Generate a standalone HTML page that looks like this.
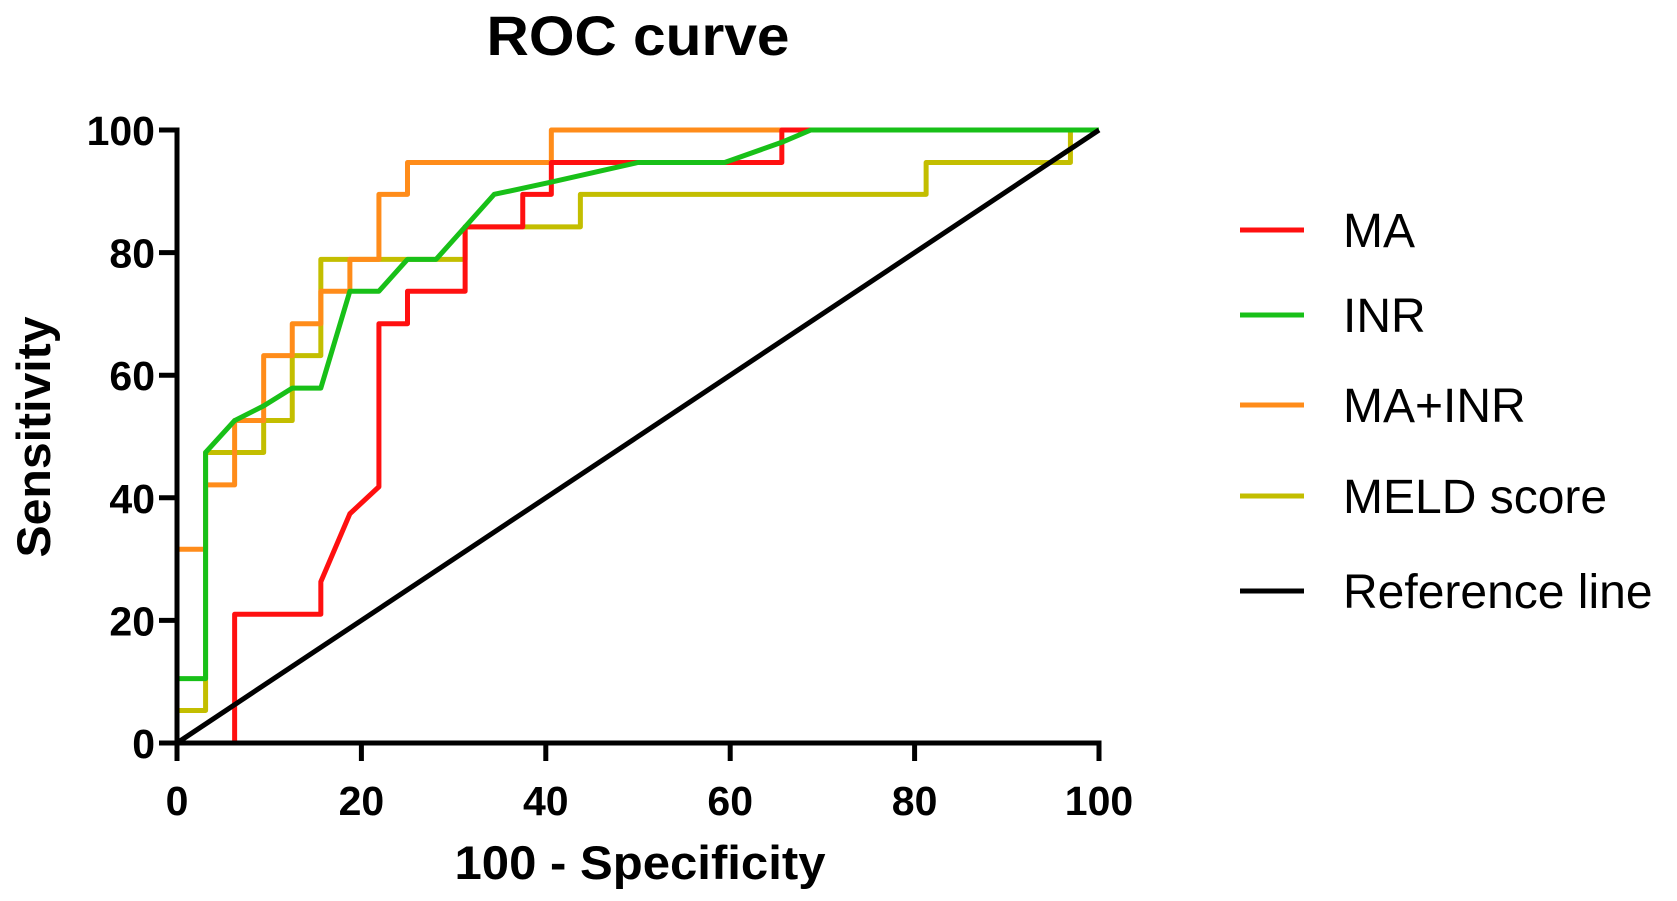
<!DOCTYPE html>
<html><head><meta charset="utf-8"><style>
html,body{margin:0;padding:0;background:#fff;}
svg{display:block;font-family:"Liberation Sans",Arial,sans-serif;}
</style></head><body>
<svg id="chart" width="1677" height="901" viewBox="0 0 1677 901">
<text x="638" y="55" font-size="56" font-weight="bold" text-anchor="middle" textLength="303" lengthAdjust="spacingAndGlyphs">ROC curve</text>
<g id="plot"></g>
<g id="axes"></g>
<text x="640" y="879" font-size="47" font-weight="bold" text-anchor="middle" textLength="371" lengthAdjust="spacingAndGlyphs">100 - Specificity</text>
<text transform="translate(50,437) rotate(-90)" font-size="47" font-weight="bold" text-anchor="middle" textLength="241" lengthAdjust="spacingAndGlyphs">Sensitivity</text>
<g id="legend"></g>
</svg>
<script>
const xTicks = [0, 20, 40, 60, 80, 100];
const yTicks = [0, 20, 40, 60, 80, 100];
const seriesNames = ["MA", "INR", "MA+INR", "MELD score", "Reference line"];
const maX = [0, 6.25, 6.25, 15.6, 15.6, 18.75, 21.9, 21.9, 25, 25, 31.25, 31.25, 37.5, 37.5, 40.6, 40.6, 65.6, 65.6, 100];
const maY = [0, 0, 21, 21, 26.3, 37.4, 41.8, 68.4, 68.4, 73.7, 73.7, 84.2, 84.2, 89.5, 89.5, 94.7, 94.7, 100, 100];
const inrX = [0, 0, 3.1, 3.1, 6.25, 9.4, 12.5, 15.6, 18.75, 21.9, 25, 28.1, 31.25, 34.4, 40.6, 50, 59.4, 65.6, 68.75, 100];
const inrY = [0, 10.5, 10.5, 47.4, 52.6, 55, 57.9, 57.9, 73.7, 73.7, 78.9, 78.9, 84.2, 89.5, 91.5, 94.7, 94.7, 98, 100, 100];
const comboX = [0, 0, 3.1, 3.1, 6.25, 6.25, 9.4, 9.4, 12.5, 12.5, 15.6, 15.6, 18.75, 18.75, 21.9, 21.9, 25, 25, 40.6, 40.6, 100];
const comboY = [0, 31.6, 31.6, 42.1, 42.1, 52.6, 52.6, 63.2, 63.2, 68.4, 68.4, 73.7, 73.7, 78.9, 78.9, 89.5, 89.5, 94.7, 94.7, 100, 100];
const meldX = [0, 0, 3.1, 3.1, 9.4, 9.4, 12.5, 12.5, 15.6, 15.6, 31.25, 31.25, 43.75, 43.75, 81.25, 81.25, 96.9, 96.9, 100];
const meldY = [0, 5.3, 5.3, 47.4, 47.4, 52.6, 52.6, 63.2, 63.2, 78.9, 78.9, 84.2, 84.2, 89.5, 89.5, 94.7, 94.7, 100, 100];
const refX = [0, 100];
const refY = [0, 100];

const X0 = 177, X1 = 1099, Y0 = 743, Y1 = 130;
const sx = v => X0 + (v / 100) * (X1 - X0);
const sy = v => Y0 - (v / 100) * (Y0 - Y1);
const NS = "http://www.w3.org/2000/svg";
const plot = document.getElementById("plot");
const axes = document.getElementById("axes");
const legend = document.getElementById("legend");

const series = [
  {name: "MELD score", xs: meldX, ys: meldY, color: "#c3be00", key: "meld"},
  {name: "MA+INR", xs: comboX, ys: comboY, color: "#ff8c1a", key: "ma-inr"},
  {name: "MA", xs: maX, ys: maY, color: "#ff1010", key: "ma"},
  {name: "INR", xs: inrX, ys: inrY, color: "#18c018", key: "inr"},
  {name: "Reference line", xs: refX, ys: refY, color: "#000000", key: "reference"}
];
series.forEach(s => {
  const p = document.createElementNS(NS, "polyline");
  p.setAttribute("points", s.xs.map((x, i) => sx(x) + "," + sy(s.ys[i])).join(" "));
  p.setAttribute("fill", "none");
  p.setAttribute("stroke", s.color);
  p.setAttribute("stroke-width", "5");
  p.setAttribute("stroke-linejoin", "round");
  
  
  plot.appendChild(p);
});

function line(x1, y1, x2, y2, w) {
  const l = document.createElementNS(NS, "line");
  l.setAttribute("x1", x1); l.setAttribute("y1", y1);
  l.setAttribute("x2", x2); l.setAttribute("y2", y2);
  l.setAttribute("stroke", "#000"); l.setAttribute("stroke-width", w);
  return l;
}
const xa = line(X0 - 2.5, Y0, X1 + 2.5, Y0, 5);


axes.appendChild(xa);
const ya = line(X0, Y0 + 2.5, X0, Y1 - 2.5, 5);


axes.appendChild(ya);

xTicks.forEach(v => {
  const t = line(sx(v), Y0, sx(v), Y0 + 18, 5);
  
  
  axes.appendChild(t);
  const tx = document.createElementNS(NS, "text");
  tx.setAttribute("x", sx(v)); tx.setAttribute("y", 815);
  tx.setAttribute("font-size", "41"); tx.setAttribute("font-weight", "bold");
  tx.setAttribute("text-anchor", "middle");
  tx.textContent = v;
  
  
  axes.appendChild(tx);
});
yTicks.forEach(v => {
  const t = line(X0 - 18, sy(v), X0, sy(v), 5);
  
  
  axes.appendChild(t);
  const tx = document.createElementNS(NS, "text");
  tx.setAttribute("x", 155); tx.setAttribute("y", sy(v) + 15);
  tx.setAttribute("font-size", "41"); tx.setAttribute("font-weight", "bold");
  tx.setAttribute("text-anchor", "end");
  tx.textContent = v;
  
  
  axes.appendChild(tx);
});

const legendColors = {"MA": "#ff1010", "INR": "#18c018", "MA+INR": "#ff8c1a", "MELD score": "#c3be00", "Reference line": "#000000"};
const legendRowY = [230, 315, 405, 496, 591];
seriesNames.forEach((n, i) => {
  const g = document.createElementNS(NS, "g");
  
  
  const l = document.createElementNS(NS, "line");
  l.setAttribute("x1", 1240); l.setAttribute("x2", 1304);
  l.setAttribute("y1", legendRowY[i]); l.setAttribute("y2", legendRowY[i]);
  l.setAttribute("stroke", legendColors[n]); l.setAttribute("stroke-width", "5");
  
  
  g.appendChild(l);
  const t = document.createElementNS(NS, "text");
  t.setAttribute("x", 1343); t.setAttribute("y", legendRowY[i] + 17);
  t.setAttribute("font-size", "48");
  t.textContent = n;
  
  
  g.appendChild(t);
  legend.appendChild(g);
});
</script>
</body></html>
